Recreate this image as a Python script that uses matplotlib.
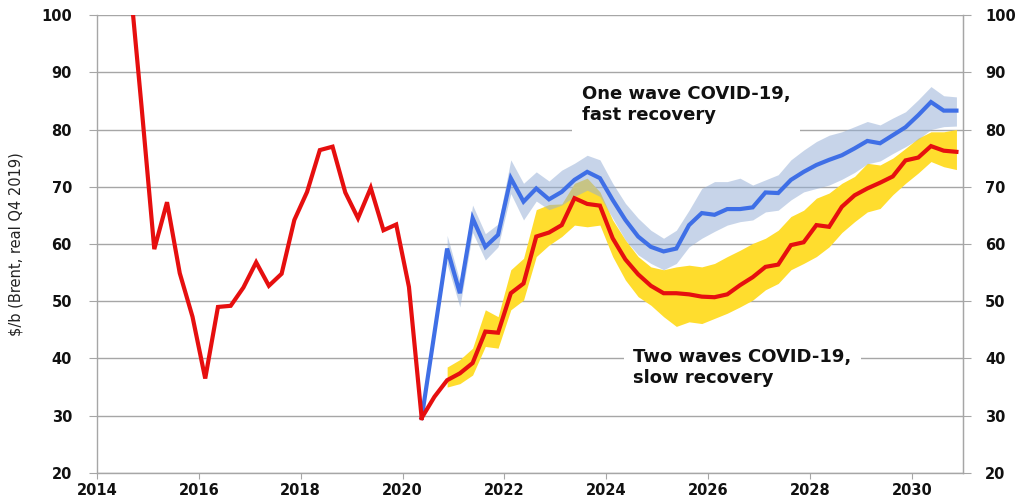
import numpy as np
import pandas as pd
import matplotlib
matplotlib.use("Agg")
import matplotlib.pyplot as plt

plt.rcParams['font.family'] = ['DejaVu Sans']

# quarterly Brent, $/b real Q4 2019
hist_start, hist_end = "2014Q3", "2020Q2"
hist_price = [108.0, 84.0,
              59.1, 67.3, 54.9, 47.3,
              36.5, 49.0, 49.2, 52.4,
              56.8, 52.7, 54.8, 64.2,
              69.1, 76.4, 77.0, 69.0,
              64.5, 69.8, 62.4, 63.4,
              52.5, 29.6]

# two waves, slow recovery (red) - starts from the last actual quarter
slow_start = "2020Q2"
slow_price = [29.6, 33.3, 36.2,
              37.4, 39.2, 44.7, 44.5,
              51.4, 53.1, 61.3, 62.0,
              63.3, 68.0, 67.0, 66.7,
              61.0, 57.3, 54.7, 52.7,
              51.4, 51.4, 51.2, 50.8,
              50.7, 51.2, 52.8, 54.2,
              56.0, 56.4, 59.8, 60.3,
              63.3, 63.0, 66.5, 68.5,
              69.7, 70.7, 71.8, 74.6,
              75.1, 77.1, 76.3, 76.1]

# one wave, fast recovery (blue)
fast_quarters = ["2020Q2"] + [str(p) for p in pd.period_range("2020Q4", "2030Q4", freq="Q")]
fast_price = [29.6, 59.2,
              51.4, 64.5, 59.5, 61.6,
              71.5, 67.4, 69.7, 67.8,
              69.1, 71.2, 72.6, 71.5,
              67.7, 64.2, 61.3, 59.5,
              58.7, 59.2, 63.3, 65.4,
              65.1, 66.1, 66.1, 66.4,
              69.0, 68.9, 71.2, 72.6,
              73.8, 74.7, 75.5, 76.7,
              78.0, 77.6, 79.0, 80.4,
              82.5, 84.8, 83.3, 83.3]

# uncertainty ranges, 2020Q4 - 2030Q4
band_start = "2020Q4"
fast_hi = [61.5,
           53.5, 66.8, 61.8, 63.5,
           74.7, 70.6, 72.6, 71.0,
           72.9, 74.1, 75.5, 74.7,
           70.6, 67.1, 64.5, 62.4,
           61.0, 62.4, 65.9, 69.7,
           70.9, 70.9, 71.5, 70.3,
           71.2, 72.1, 74.7, 76.4,
           77.9, 79.0, 79.6, 80.5,
           81.4, 80.8, 82.0, 83.1,
           85.2, 87.5, 85.9, 85.7]
fast_lo = [56.5,
           49.0, 62.0, 57.2, 59.5,
           68.8, 64.2, 67.5, 66.0,
           66.8, 68.3, 69.4, 68.3,
           64.5, 60.7, 58.1, 56.6,
           55.5, 56.6, 59.5, 61.0,
           62.2, 63.3, 63.9, 64.2,
           65.6, 65.9, 67.7, 69.1,
           69.7, 70.3, 71.3, 72.5,
           74.0, 74.5, 75.8, 77.0,
           78.3, 80.0, 80.5, 80.6]
slow_hi = [38.5,
           39.8, 41.8, 48.5, 47.3,
           55.5, 57.5, 66.0, 66.9,
           67.0, 70.6, 71.5, 69.1,
           64.2, 60.7, 57.8, 56.0,
           55.5, 56.0, 56.3, 56.0,
           56.6, 57.8, 58.9, 60.1,
           61.0, 62.4, 64.8, 65.9,
           68.0, 68.9, 70.6, 71.8,
           74.1, 73.8, 75.0, 76.7,
           78.5, 79.6, 79.6, 80.0]
slow_lo = [35.0,
           35.6, 37.1, 42.1, 41.8,
           48.5, 50.2, 57.8, 59.8,
           61.3, 63.3, 63.0, 63.3,
           57.8, 53.7, 50.8, 49.3,
           47.3, 45.6, 46.4, 46.1,
           47.0, 47.9, 49.0, 50.2,
           52.0, 53.1, 55.5, 56.6,
           57.8, 59.5, 62.0, 63.9,
           65.6, 66.2, 68.6, 70.6,
           72.4, 74.4, 73.5, 73.0]

year_ticks = list(range(2014, 2031, 2))
y_ticks = list(range(20, 101, 10))


def qpos(periods):
    # place each quarter at its mid point on a decimal-year axis
    p = pd.PeriodIndex(periods, freq="Q")
    return np.asarray(p.year + (p.quarter - 0.5) / 4.0)


def qrange(start, n):
    return qpos(pd.period_range(start, periods=n, freq="Q"))


x_hist = qrange(hist_start, len(hist_price))
x_slow = qrange(slow_start, len(slow_price))
x_fast = qpos(fast_quarters)
x_band = qrange(band_start, len(fast_hi))

red = "#E60F0F"
blue = "#3F6FE6"
yellow = "#FFDD2E"
band_blue = "#94AED6"
grid_col = "#A6A6A6"

fig = plt.figure(figsize=(10.21, 5.01), dpi=100)
ax = fig.add_axes([0.095, 0.056, 0.848, 0.914])

ax.fill_between(x_band, slow_lo, slow_hi, color=yellow, lw=0, zorder=2)
ax.fill_between(x_band, fast_lo, fast_hi, color=band_blue, alpha=0.52, lw=0, zorder=3)
ax.plot(x_fast, fast_price, color=blue, lw=3, zorder=4, solid_joinstyle="miter")
ax.plot(x_slow, slow_price, color=red, lw=3, zorder=5, solid_joinstyle="miter")
ax.plot(x_hist, hist_price, color=red, lw=3, zorder=5, solid_joinstyle="miter")

ax.set_xlim(2014, 2031)
ax.set_ylim(20, 100)
ax.set_xticks(year_ticks)
ax.set_yticks(y_ticks)
ax.set_xticklabels([str(y) for y in year_ticks], fontweight="bold", fontsize=10.5)
ax.set_yticklabels([str(v) for v in y_ticks], fontweight="bold", fontsize=10.5)
ax.yaxis.grid(True, color=grid_col, lw=1)
ax.set_axisbelow(True)

ax.spines["top"].set_visible(False)
for side in ["left", "right", "bottom"]:
    ax.spines[side].set_color(grid_col)
    ax.spines[side].set_linewidth(1)
ax.tick_params(axis="x", colors=grid_col, labelcolor="#111111", length=4, pad=3)
ax.tick_params(axis="y", colors=grid_col, labelcolor="#111111", length=6, pad=12)

ax2 = ax.twinx()
ax2.set_ylim(ax.get_ylim())
ax2.set_yticks(y_ticks)
ax2.set_yticklabels([str(v) for v in y_ticks], fontweight="bold", fontsize=10.5)
ax2.tick_params(axis="y", colors=grid_col, labelcolor="#111111", length=6, pad=10)
for side in ["top", "left", "bottom"]:
    ax2.spines[side].set_visible(False)
ax2.spines["right"].set_color(grid_col)

ax.set_ylabel("$/b (Brent, real Q4 2019)", fontsize=10.5, color="#222222", labelpad=13)

box = dict(facecolor="white", edgecolor="none", pad=7)
ax.text(2023.52, 84.3, "One wave COVID-19,\nfast recovery", fontsize=13,
        fontweight="bold", color="#111111", ha="left", va="center",
        bbox=box, zorder=1.5)
ax.text(2024.53, 38.4, "Two waves COVID-19,\nslow recovery", fontsize=13,
        fontweight="bold", color="#111111", ha="left", va="center",
        bbox=box, zorder=1.5)

fig.savefig("out.png", dpi=100)
